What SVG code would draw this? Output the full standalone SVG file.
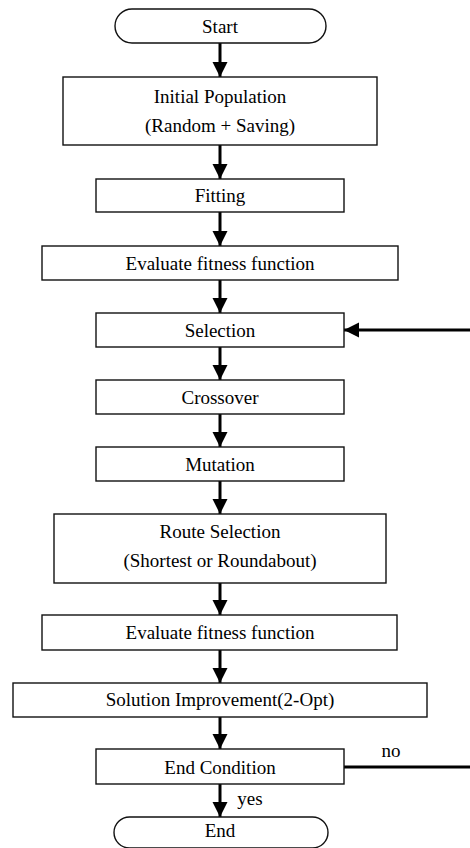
<svg xmlns="http://www.w3.org/2000/svg" width="470" height="848" viewBox="0 0 470 848">
<style>
.b{fill:#fff;stroke:#111;stroke-width:1.4}
.t{font-family:'Liberation Serif','Times New Roman',serif;font-size:19px;fill:#000;text-anchor:middle}
.c{stroke:#000;stroke-width:3;fill:none}
</style>
<defs>
<marker id="ah" markerUnits="userSpaceOnUse" markerWidth="16" markerHeight="16" refX="15" refY="7.5" orient="auto">
<path d="M0,0 L15,7.5 L0,15 Z" fill="#000"/>
</marker>
</defs>
<rect width="470" height="848" fill="#fff"/>
<g id="connectors">
<line class="c" x1="220" y1="43" x2="220" y2="77" marker-end="url(#ah)"/>
<line class="c" x1="220" y1="145" x2="220" y2="179" marker-end="url(#ah)"/>
<line class="c" x1="220" y1="212" x2="220" y2="246" marker-end="url(#ah)"/>
<line class="c" x1="220" y1="280" x2="220" y2="313" marker-end="url(#ah)"/>
<line class="c" x1="220" y1="347" x2="220" y2="380" marker-end="url(#ah)"/>
<line class="c" x1="220" y1="414" x2="220" y2="447" marker-end="url(#ah)"/>
<line class="c" x1="220" y1="481" x2="220" y2="514" marker-end="url(#ah)"/>
<line class="c" x1="220" y1="583" x2="220" y2="615" marker-end="url(#ah)"/>
<line class="c" x1="220" y1="650" x2="220" y2="683" marker-end="url(#ah)"/>
<line class="c" x1="220" y1="717" x2="220" y2="749" marker-end="url(#ah)"/>
<line class="c" x1="220" y1="784" x2="220" y2="817" marker-end="url(#ah)"/>
<line class="c" x1="470" y1="330" x2="344" y2="330" marker-end="url(#ah)"/>
<line class="c" x1="344" y1="767" x2="470" y2="767"/>
<text class="t" x="391" y="757">no</text>
<text class="t" x="250" y="805">yes</text>
</g>
<g id="start"><rect class="b" x="115" y="9" width="211" height="34" rx="17"/><text class="t" x="220" y="33">Start</text></g>
<g id="init"><rect class="b" x="63" y="77" width="314" height="68"/><text class="t" x="220" y="103">Initial Population</text><text class="t" x="220" y="132">(Random + Saving)</text></g>
<g id="fitting"><rect class="b" x="96" y="179" width="248" height="33"/><text class="t" x="220" y="202">Fitting</text></g>
<g id="eval1"><rect class="b" x="42" y="246" width="356" height="34"/><text class="t" x="220" y="270">Evaluate fitness function</text></g>
<g id="selection"><rect class="b" x="96" y="313" width="248" height="34"/><text class="t" x="220" y="337">Selection</text></g>
<g id="crossover"><rect class="b" x="96" y="380" width="248" height="34"/><text class="t" x="220" y="404">Crossover</text></g>
<g id="mutation"><rect class="b" x="96" y="447" width="248" height="34"/><text class="t" x="220" y="471">Mutation</text></g>
<g id="route"><rect class="b" x="54" y="514" width="332" height="69"/><text class="t" x="220" y="538">Route Selection</text><text class="t" x="220" y="567">(Shortest or Roundabout)</text></g>
<g id="eval2"><rect class="b" x="42" y="615" width="355" height="35"/><text class="t" x="220" y="639">Evaluate fitness function</text></g>
<g id="improve"><rect class="b" x="13" y="683" width="414" height="34"/><text class="t" x="220" y="706">Solution Improvement(2-Opt)</text></g>
<g id="endcond"><rect class="b" x="96" y="749" width="248" height="35"/><text class="t" x="220" y="774">End Condition</text></g>
<g id="end"><rect class="b" x="114" y="817" width="214" height="31" rx="15.5"/><text class="t" x="220" y="837">End</text></g>
</svg>
